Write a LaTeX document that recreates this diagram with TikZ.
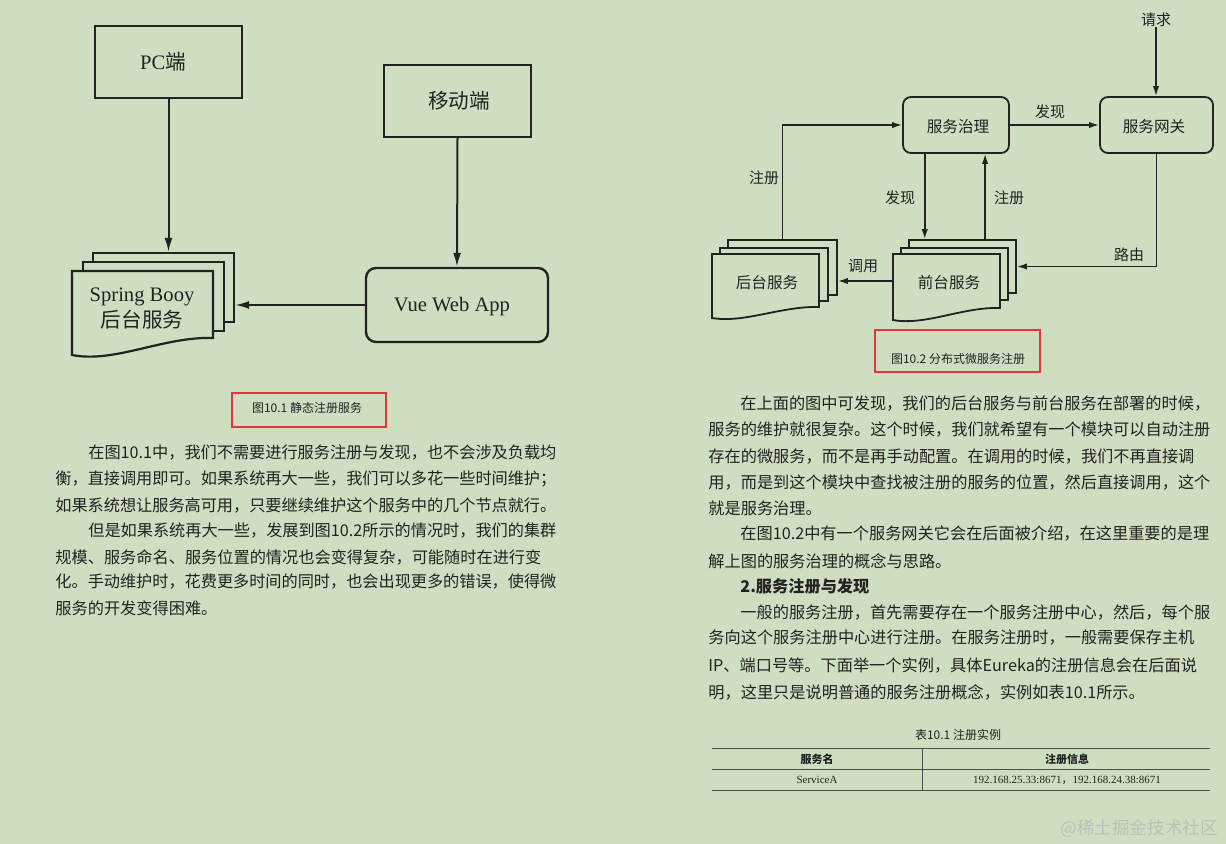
\documentclass[tikz,border=0pt]{standalone}
\usepackage{fontspec}
\setmainfont{Liberation Serif}
\newfontfamily\cjk{Noto Sans CJK SC}
\usetikzlibrary{arrows.meta,calc,fit}
\definecolor{bg}{RGB}{207,222,193}
\definecolor{ink}{RGB}{34,34,34}
\definecolor{redbox}{RGB}{224,56,56}
\definecolor{wmark}{RGB}{186,193,183}
\XeTeXlinebreaklocale "zh"
\XeTeXlinebreakskip=0pt plus 1pt minus 0.3pt
\newcommand\docfront[6]{\filldraw[draw=ink, fill=bg, line width=#6] (#1,#2) -- (#3,#2) -- (#3,#4) .. controls ({#1+0.65*(#3-#1)},{#4-0.1*(#5-#4)}) and ({#1+0.3*(#3-#1)},{#5+0.5*(#5-#4)}) .. (#1,#5) -- cycle;}
\tikzset{
  every node/.style={text=ink},
  arra/.style={draw=ink, line width=1pt, -{Latex[length=7pt,width=4pt]}},
  arrb/.style={draw=ink, line width=0.8pt, -{Latex[length=5pt,width=3.2pt]}},
  boxa/.style={draw=ink, line width=1.2pt, inner sep=0pt},
  fonta/.style={inner sep=0pt, font=\fontsize{10.3}{12}\selectfont},
  boxb/.style={draw=ink, line width=0.9pt, inner sep=0pt, rounded corners=4pt},
  fontb/.style={inner sep=0pt, font=\cjk\fontsize{7.8}{9}\selectfont},
  docbka/.style={draw=ink, fill=bg, line width=1.1pt, inner sep=0pt},
  docbkb/.style={draw=ink, fill=bg, line width=0.9pt, inner sep=0pt},
  lab/.style={inner sep=0pt, font=\cjk\fontsize{7.5}{9}\selectfont},
  capt/.style={inner sep=0pt, font=\cjk\fontsize{6}{7}\selectfont},
  redb/.style={draw=redbox, line width=1.25pt, inner sep=0pt},
  jl/.style={anchor=west, inner sep=0pt, text width=#1, align=justify, font=\cjk\fontsize{8.1}{10}\selectfont},
  ll/.style={anchor=west, inner sep=0pt, font=\cjk\fontsize{8.1}{10}\selectfont},
  tblrule/.style={draw=ink!80, line width=0.5pt},
  tcell/.style={inner sep=0pt, font=\fontsize{5.5}{6.5}\selectfont}
}
\begin{document}
\begin{tikzpicture}[x=0.5pt,y=-0.5pt]
\useasboundingbox (0,0) rectangle (1226,844);
\fill[bg] (0,0) rectangle (1226,844);

% ---------- Figure 10.1 ----------
\node[boxa, fit={(95,26) (242,98)}] (pc) {};
\node[fonta] (pcT) at (163,62) {PC{\cjk 端}};
\node[boxa, fit={(384,65) (531,137)}] (mob) {};
\node[fonta, font=\cjk\fontsize{10.3}{12}\selectfont] (mobT) at (459,101) {移动端};
\node[boxa, rounded corners=5pt, fit={(366,268) (548,342)}] (vue) {};
\node[fonta] (vueT) at (452,307) {Vue Web App};
\node[docbka, fit={(93,253) (234,322)}] (sbBack) {};
\node[docbka, fit={(83,262) (224,331)}] (sbMid) {};
\docfront{72}{271}{213}{338}{355}{1.1pt}
\node[inner sep=0pt, align=center, font=\fontsize{10.3}{13}\selectfont] (sbText) at (142,309) {Spring Booy\\{\cjk 后台服务}};
\draw[arra] (pc.south) -- (pc.south |- sbBack.north);
\draw[arra] (mob.south) -- (vue.north);
\draw[arra] (vue.west) -- (vue.west -| sbBack.east);
\node[redb, fit={(232,393) (386,427)}] (cap1box) {};
\node[capt] (cap1) at (307,408) {图10.1 静态注册服务};

% ---------- Figure 10.2 ----------
\node[lab] (req) at (1156,20) {请求};
\node[boxb, fit={(903,97) (1009,153)}] (gov) {};
\node[fontb] (govT) at (958,127) {服务治理};
\node[boxb, fit={(1100,97) (1213,153)}] (gw) {};
\node[fontb] (gwT) at (1154,127) {服务网关};
\node[docbkb, fit={(728,240) (837,295)}] (bsBack) {};
\node[docbkb, fit={(720,248) (828,301)}] (bsMid) {};
\docfront{712}{254}{819}{307}{318}{0.9pt}
\node[fontb] (bsText) at (767,283) {后台服务};
\node[docbkb, fit={(909,240) (1016,293)}] (fsBack) {};
\node[docbkb, fit={(901,248) (1008,300)}] (fsMid) {};
\docfront{893}{254}{1000}{308}{320}{0.9pt}
\node[inner sep=0pt, fit={(893,254) (1000,308)}] (fsFront) {};
\node[fontb] (fsText) at (949,283) {前台服务};

\draw[arrb] (req.south) -- (req.south |- gw.north);
\draw[arrb] (gov.east) -- (gw.west);
\draw[arrb] (bsBack.north) |- (gov.west);
\coordinate (dA) at ($(gov.south west)!0.21!(gov.south east)$);
\coordinate (uA) at ($(gov.south west)!0.77!(gov.south east)$);
\draw[arrb] (dA) -- (dA |- fsBack.north);
\draw[arrb] (uA |- fsBack.north) -- (uA);
\draw[arrb] (gw.south) |- (fsBack.east);
\draw[arrb] (fsFront.west) -- (fsFront.west -| bsBack.east);

\node[lab] (l1) at (1050,112) {发现};
\node[lab] (l2) at (764,178) {注册};
\node[lab] (l3) at (900,198) {发现};
\node[lab] (l4) at (1009,198) {注册};
\node[lab] (l5) at (1129,255) {路由};
\node[lab] (l6) at (863,266) {调用};
\node[redb, fit={(875,330) (1040,372)}] (cap2box) {};
\node[capt] (cap2) at (958,359) {图10.2 分布式微服务注册};

% ---------- Left column text ----------
\node[jl=234pt] (a1) at (88,453) {\noindent\parfillskip=0pt 在图10.1中，我们不需要进行服务注册与发现，也不会涉及负载均};
\node[jl=250.5pt] (a2) at (55,479) {\noindent\parfillskip=0pt 衡，直接调用即可。如果系统再大一些，我们可以多花一些时间维护；};
\node[jl=250.5pt] (a3) at (55,506) {\noindent\parfillskip=0pt 如果系统想让服务高可用，只要继续维护这个服务中的几个节点就行。};
\node[jl=234pt] (a4) at (88,531) {\noindent\parfillskip=0pt 但是如果系统再大一些，发展到图10.2所示的情况时，我们的集群};
\node[jl=250.5pt] (a5) at (55,557) {\noindent\parfillskip=0pt 规模、服务命名、服务位置的情况也会变得复杂，可能随时在进行变};
\node[jl=250.5pt] (a6) at (55,582) {\noindent\parfillskip=0pt 化。手动维护时，花费更多时间的同时，也会出现更多的错误，使得微};
\node[ll] (a7) at (55,608) {服务的开发变得困难。};

% ---------- Right column text ----------
\node[jl=235pt] (b1) at (740,403.5) {\noindent\parfillskip=0pt 在上面的图中可发现，我们的后台服务与前台服务在部署的时候，};
\node[jl=251pt] (b2) at (708,430) {\noindent\parfillskip=0pt 服务的维护就很复杂。这个时候，我们就希望有一个模块可以自动注册};
\node[jl=251pt] (b3) at (708,456.5) {\noindent\parfillskip=0pt 存在的微服务，而不是再手动配置。在调用的时候，我们不再直接调};
\node[jl=251pt] (b4) at (708,482) {\noindent\parfillskip=0pt 用，而是到这个模块中查找被注册的服务的位置，然后直接调用，这个};
\node[ll] (b5) at (708,508.5) {就是服务治理。};
\node[jl=235pt] (b6) at (740,534) {\noindent\parfillskip=0pt 在图10.2中有一个服务网关它会在后面被介绍，在这里重要的是理};
\node[ll] (b7) at (708,561) {解上图的服务治理的概念与思路。};
\node[ll, font=\cjk\bfseries\fontsize{8.1}{10}\selectfont] (b8) at (740,586) {2.服务注册与发现};
\node[jl=235pt] (b9) at (740,612) {\noindent\parfillskip=0pt 一般的服务注册，首先需要存在一个服务注册中心，然后，每个服};
\node[jl=251pt] (b10) at (708,638) {\noindent\parfillskip=0pt 务向这个服务注册中心进行注册。在服务注册时，一般需要保存主机};
\node[jl=251pt] (b11) at (708,665) {\noindent\parfillskip=0pt IP、端口号等。下面举一个实例，具体Eureka的注册信息会在后面说};
\node[ll] (b12) at (708,692) {明，这里只是说明普通的服务注册概念，实例如表10.1所示。};

% ---------- Table ----------
\node[capt] (tcap) at (958,735) {表10.1 注册实例};
\draw[tblrule] (712,748) -- (1210,748);
\draw[tblrule] (712,769) -- (1210,769);
\draw[tblrule] (712,790) -- (1210,790);
\draw[tblrule] (922,748) -- (922,790);
\node[tcell, font=\cjk\bfseries\fontsize{5.5}{6.5}\selectfont] (h1) at (817,759) {服务名};
\node[tcell, font=\cjk\bfseries\fontsize{5.5}{6.5}\selectfont] (h2) at (1067,759) {注册信息};
\node[tcell] (c1) at (817,780) {ServiceA};
\node[tcell] (c2) at (1067,780) {192.168.25.33:8671{\cjk ，}192.168.24.38:8671};

% ---------- Watermark ----------
\node[anchor=west, inner sep=0pt, text=wmark, font=\cjk\fontsize{8.8}{10}\selectfont] (wm) at (1060,829) {@稀土掘金技术社区};
\end{tikzpicture}
\end{document}
